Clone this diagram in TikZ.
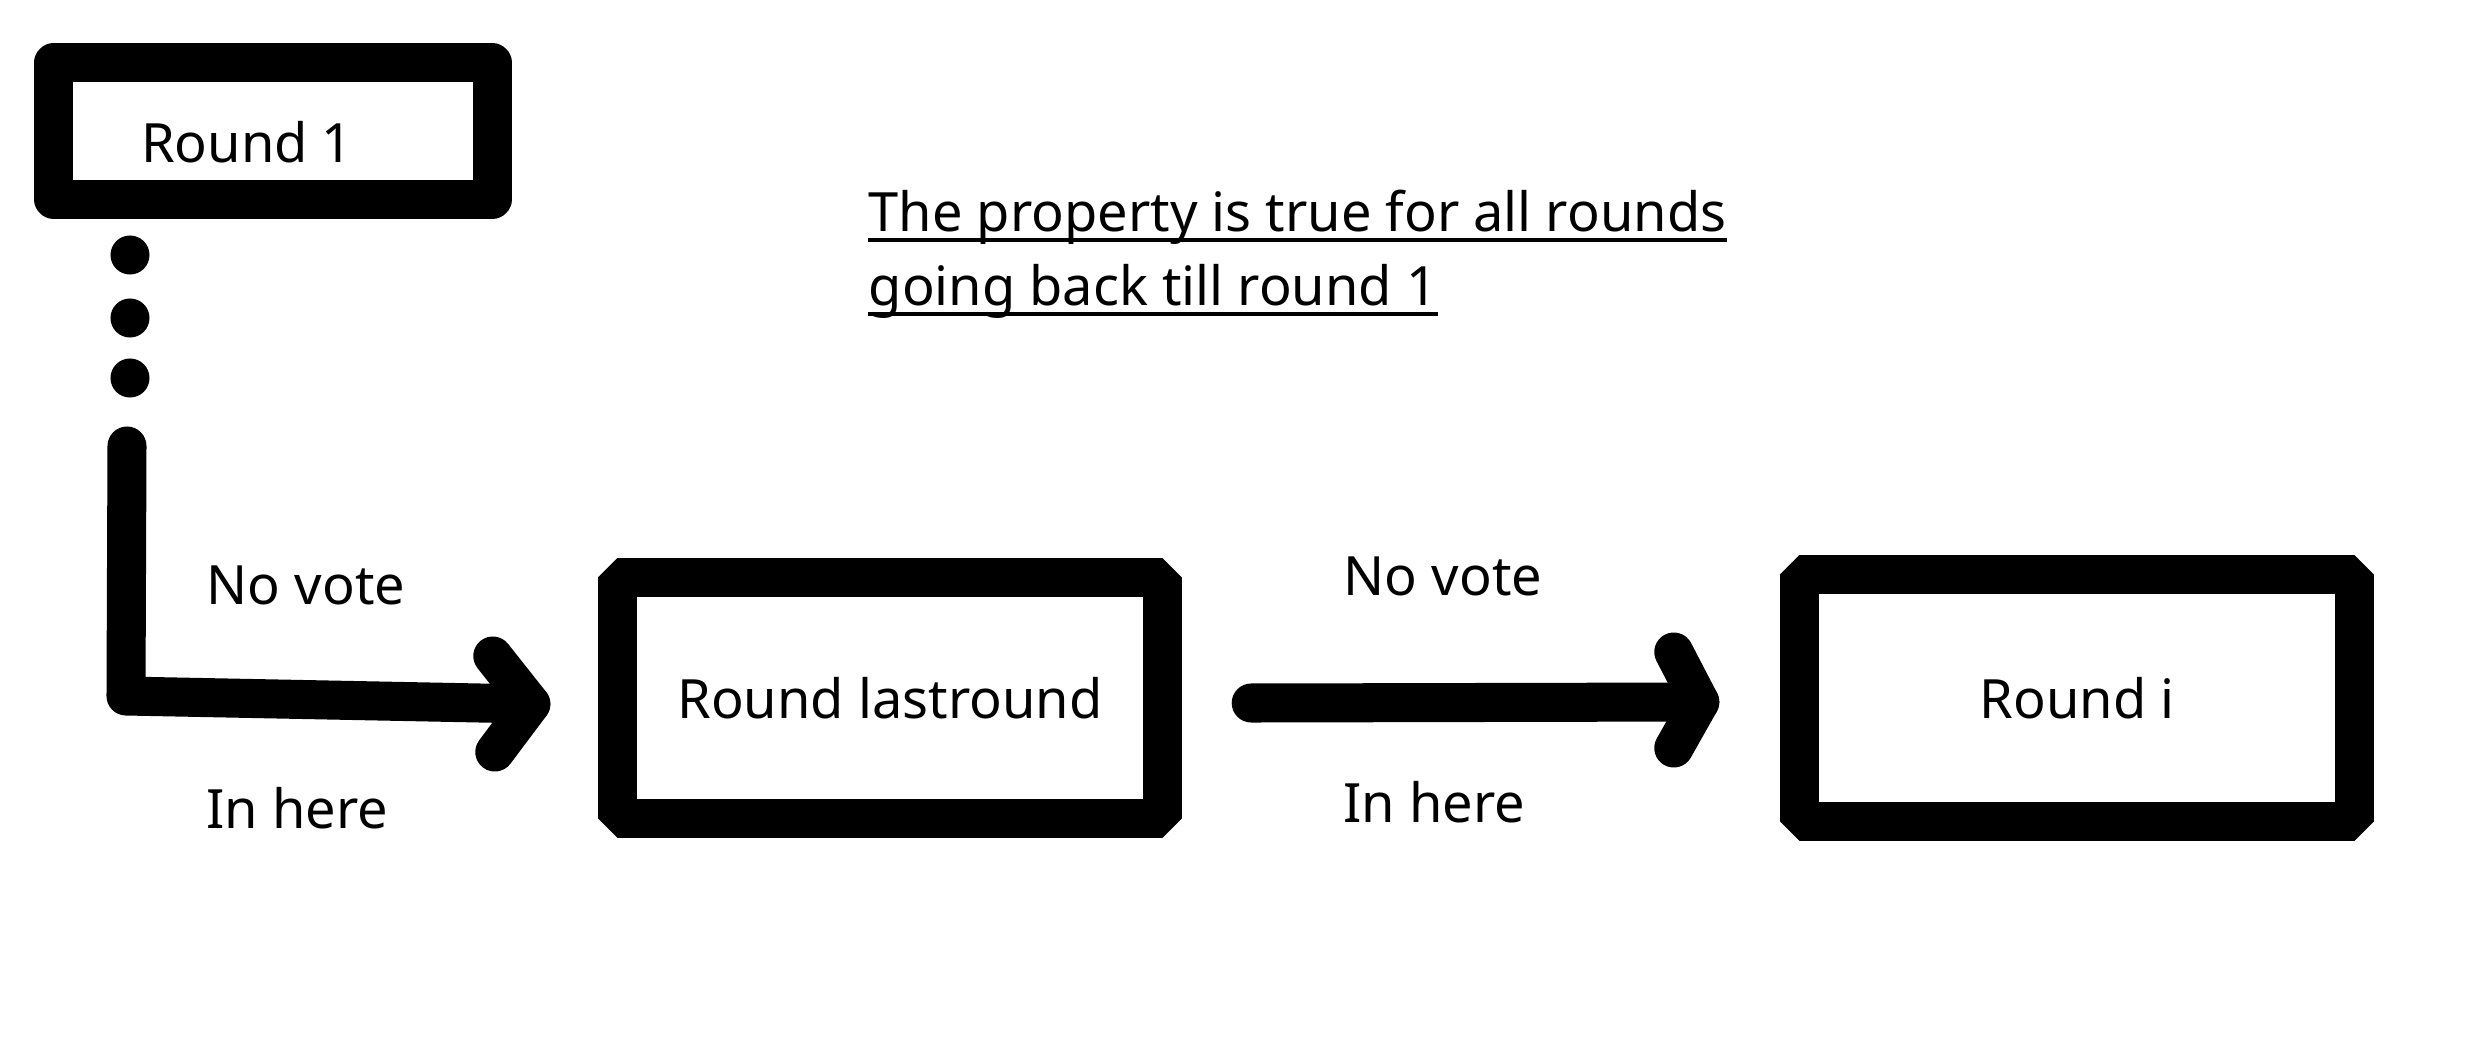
\documentclass[tikz,border=0pt]{standalone}
\usepackage{fontspec}
\setmainfont{Noto Sans}
\tikzset{
  fatline/.style={line width=0.39cm, line cap=round, line join=round},
  roundbox/.style={draw, line width=0.39cm, line join=bevel, minimum width=5.45cm,
    minimum height=2.4cm, font=\fontsize{15.4}{18}\selectfont},
  lbl/.style={font=\fontsize{15.4}{18}\selectfont, inner sep=0pt},
  dot/.style={circle, fill, minimum size=0.39cm, inner sep=0pt},
}
\begin{document}
\begin{tikzpicture}[x=0.01cm, y=-0.01cm]
\useasboundingbox (0,0) rectangle (2480,1048);
% rounds
\node[roundbox, line join=round, minimum width=4.38cm, minimum height=1.36cm] (first) at (273,131) {};
\node[lbl] (firstlbl) at (247,142) {Round 1};
\node[roundbox] (last) at (890,698) {Round lastround};
\node[roundbox, minimum width=5.55cm, minimum height=2.47cm] (cur) at (2077,698) {Round i};
% dots below round 1
\foreach \y/\n in {255/a, 318/b, 378/c}
  \node[dot] (dot\n) at (130,\y) {};
% arrow into the last round
\coordinate (vtop) at (127,446);
\coordinate (bend) at (126,696);
\coordinate (tipA) at ([xshift=-0.67cm, yshift=-0.06cm]last.west);
\draw[fatline] (vtop) -- (bend) -- (tipA);
\draw[fatline] ([shift={(-38,-48)}]tipA) -- (tipA) -- ([shift={(-36,48)}]tipA);
\node[lbl] (novoteA) at (306,585) {No vote};
\node[lbl] (inhereA) at (297,808) {In here};
% arrow into round i
\coordinate (startB) at ([xshift=0.69cm, yshift=-0.05cm]last.east);
\coordinate (tipB) at ([xshift=-0.8cm, yshift=-0.04cm]cur.west);
\draw[fatline] (startB) -- (tipB);
\draw[fatline] ([shift={(-26,-50)}]tipB) -- (tipB) -- ([shift={(-26,46)}]tipB);
\node[lbl] (novoteB) at (1443,576) {No vote};
\node[lbl] (inhereB) at (1434,802) {In here};
% claim
\node[lbl, anchor=base west] (claimA) at (868,231) {The property is true for all rounds};
\node[lbl, anchor=base west] (claimB) at (868,305) {going back till round 1};
\draw[line width=1pt] ([yshift=-0.09cm]claimA.base west) -- ([yshift=-0.09cm]claimA.base east);
\draw[line width=1pt] ([yshift=-0.09cm]claimB.base west) -- ([yshift=-0.09cm]claimB.base east);
\end{tikzpicture}
\end{document}
